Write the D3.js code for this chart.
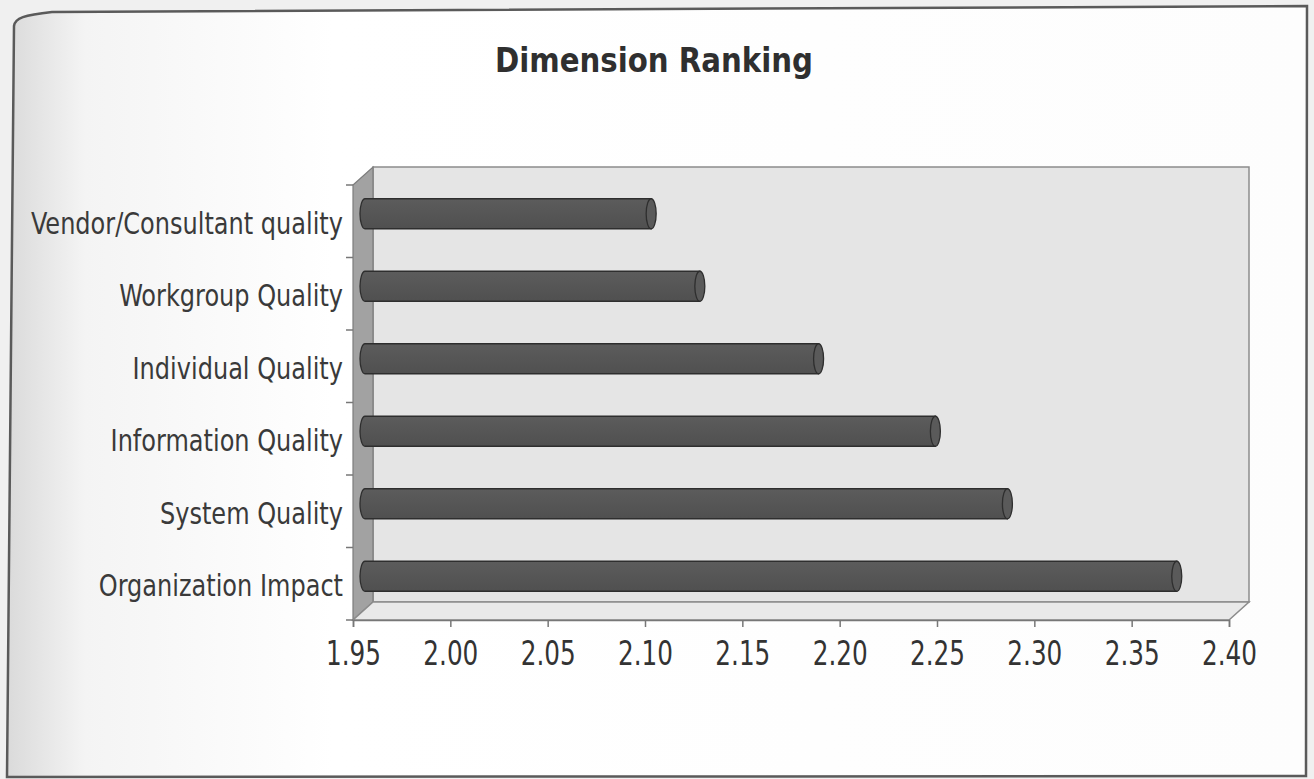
<!DOCTYPE html>
<html>
<head>
<meta charset="utf-8">
<script src="https://cdn.jsdelivr.net/npm/d3@7"></script>
<style>
  html, body { margin: 0; padding: 0; background: #f0f0f0; }
  svg { display: block; }
</style>
</head>
<body>
<svg id="chart" width="1314" height="779"></svg>
<script>
// Category order runs bottom to top, as in the plotted list
const categories = [
  "Organization Impact",
  "System Quality",
  "Information Quality",
  "Individual Quality",
  "Workgroup Quality",
  "Vendor/Consultant quality"
];
const values = [2.367, 2.280, 2.243, 2.183, 2.122, 2.097];
const tickValues = [1.95, 2.00, 2.05, 2.10, 2.15, 2.20, 2.25, 2.30, 2.35, 2.40];
const chartTitle = "Dimension Ranking";

const FONT = "'DejaVu Sans Condensed', 'Liberation Sans', sans-serif";

const svg = d3.select("#chart");
const defs = svg.append("defs");

// Soft shading along the left edge of the sheet
const shade = defs.append("linearGradient").attr("id", "sheetShade")
  .attr("x1", 0).attr("x2", 1).attr("y1", 0).attr("y2", 0);
shade.append("stop").attr("offset", "0").attr("stop-color", "#dadada");
shade.append("stop").attr("offset", "0.06").attr("stop-color", "#f4f4f4");
shade.append("stop").attr("offset", "0.25").attr("stop-color", "#ffffff");
shade.append("stop").attr("offset", "1").attr("stop-color", "#fdfdfd");

const barGrad = defs.append("linearGradient").attr("id", "barGrad")
  .attr("x1", 0).attr("x2", 0).attr("y1", 0).attr("y2", 1);
barGrad.append("stop").attr("offset", "0").attr("stop-color", "#5c5c5c");
barGrad.append("stop").attr("offset", "0.4").attr("stop-color", "#575757");
barGrad.append("stop").attr("offset", "1").attr("stop-color", "#505050");

// Sheet with its frame
svg.append("path")
  .attr("d", "M14,26 C15,18 24,15 52,12 L1307,6 L1306,776 L7,777 Z")
  .attr("fill", "url(#sheetShade)")
  .attr("stroke", "#5a5a5a")
  .attr("stroke-width", 2.5);

// Plot geometry: front plane plus a depth offset for the 3-D walls
const front = { left: 353, right: 1229, top: 185, bottom: 620 };
const depth = { dx: 20, dy: -18 };

const x = d3.scaleLinear().domain([1.95, 2.40]).range([front.left, front.right]);
const y = d3.scaleBand()
  .domain(categories.slice().reverse())
  .range([front.top, front.bottom]);

const wallStroke = "#8c8c8c";

// Back wall
svg.append("rect")
  .attr("x", front.left + depth.dx)
  .attr("y", front.top + depth.dy)
  .attr("width", front.right - front.left)
  .attr("height", front.bottom - front.top)
  .attr("fill", "#e5e5e5")
  .attr("stroke", wallStroke)
  .attr("stroke-width", 1.5);

// Side wall
svg.append("path")
  .attr("d", `M${front.left},${front.top} L${front.left + depth.dx},${front.top + depth.dy}
              L${front.left + depth.dx},${front.bottom + depth.dy} L${front.left},${front.bottom} Z`)
  .attr("fill", "#a2a2a2")
  .attr("stroke", "#7c7c7c")
  .attr("stroke-width", 1.2);

// Floor
svg.append("path")
  .attr("d", `M${front.left},${front.bottom} L${front.left + depth.dx},${front.bottom + depth.dy}
              L${front.right + depth.dx},${front.bottom + depth.dy} L${front.right},${front.bottom} Z`)
  .attr("fill", "#e9e9e9")
  .attr("stroke", wallStroke)
  .attr("stroke-width", 1.5);

// Bottom value axis
const xAxis = d3.axisBottom(x)
  .tickValues(tickValues)
  .tickFormat(d3.format(".2f"))
  .tickSize(7)
  .tickPadding(15);

const gx = svg.append("g")
  .attr("transform", `translate(0,${front.bottom})`)
  .call(xAxis);
gx.select(".domain").attr("stroke", "#777").attr("stroke-width", 1.5);
gx.selectAll(".tick line").attr("stroke", "#777").attr("stroke-width", 1.5);
gx.selectAll(".tick text")
  .attr("font-family", FONT)
  .attr("font-size", 33)
  .attr("fill", "#333");

// Category axis labels along the front edge
const yAxis = d3.axisLeft(y).tickSize(0).tickPadding(10);
const gy = svg.append("g")
  .attr("transform", `translate(${front.left},0)`)
  .call(yAxis);
gy.select(".domain").remove();
gy.selectAll(".tick text")
  .attr("font-family", FONT)
  .attr("font-size", 30)
  .attr("fill", "#3a3a3a")
  .attr("dy", "0.42em");

// Category boundary tick marks
const bounds = d3.range(categories.length + 1).map(i => front.top + i * y.step());
svg.append("g").selectAll("line").data(bounds).join("line")
  .attr("x1", front.left - 7).attr("x2", front.left)
  .attr("y1", d => d).attr("y2", d => d)
  .attr("stroke", "#777").attr("stroke-width", 1.5);

// Narrow the text horizontally so its width matches the printed face
function squeeze(sel, sample, targetWidth) {
  const node = sel.filter(d => d === sample).node();
  if (!node) return;
  const ratio = targetWidth / node.getComputedTextLength();
  sel.each(function () {
    const w = this.getComputedTextLength();
    d3.select(this).attr("textLength", w * ratio).attr("lengthAdjust", "spacingAndGlyphs");
  });
}
squeeze(gy.selectAll(".tick text"), "Vendor/Consultant quality", 312);
squeeze(gx.selectAll(".tick text"), 2.00, 55);

// Cylinder bars
const bar = { dx: 12, dy: -7.5, thick: 30, rx: 5 };
const rows = categories.map((c, i) => ({ cat: c, value: values[i] }));
const gBars = svg.append("g");
const barG = gBars.selectAll("g").data(rows).join("g");

barG.each(function (d) {
  const g = d3.select(this);
  const cy = y(d.cat) + y.bandwidth() / 2 + bar.dy;
  const x0 = x(1.95) + bar.dx;
  const x1 = x(d.value) + bar.dx;
  const top = cy - bar.thick / 2, bot = cy + bar.thick / 2;
  // body with a rounded back end
  g.append("path")
    .attr("d", `M${x1},${top} L${x0},${top}
                A${bar.rx},${bar.thick / 2} 0 0 0 ${x0},${bot}
                L${x1},${bot} Z`)
    .attr("fill", "url(#barGrad)")
    .attr("stroke", "#2e2e2e")
    .attr("stroke-width", 1.3);
  // end cap
  g.append("ellipse")
    .attr("cx", x1).attr("cy", cy)
    .attr("rx", bar.rx).attr("ry", bar.thick / 2)
    .attr("fill", "#5a5a5a")
    .attr("stroke", "#2e2e2e")
    .attr("stroke-width", 1.3);
});

// Title
const title = svg.append("text")
  .attr("x", 654).attr("y", 72)
  .attr("text-anchor", "middle")
  .attr("font-family", FONT)
  .attr("font-weight", "bold")
  .attr("font-size", 34)
  .attr("fill", "#2f2f2f")
  .text(chartTitle);
title.attr("textLength", 318).attr("lengthAdjust", "spacingAndGlyphs");
</script>
</body>
</html>
